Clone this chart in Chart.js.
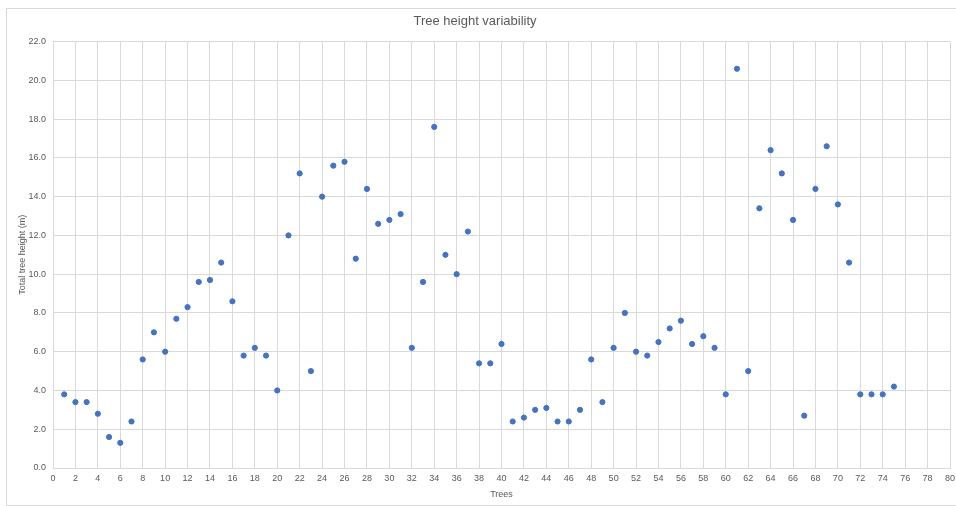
<!DOCTYPE html>
<html>
<head>
<meta charset="utf-8">
<script src="https://cdn.jsdelivr.net/npm/chart.js@4"></script>
<style>
    html, body { margin: 0; padding: 0; background: #fff; }
    #wrap { position: relative; width: 956px; height: 506px; overflow: hidden; }
    #frame { position: absolute; left: 6px; top: 8px; width: 960px; height: 496px; border: 1px solid #d9d9d9; pointer-events: none; }
</style>
</head>
<body>
<div id="wrap">
    <canvas id="treeChart" width="956" height="506"></canvas>
    <div id="frame"></div>
</div>
<script>
// Tree height data
const treeNumbers = [];
for (let i = 1; i <= 75; i++) treeNumbers.push(i);

const treeHeights = [
    3.8, 3.4, 3.4, 2.8, 1.6, 1.3, 2.4, 5.6, 7.0, 6.0,
    7.7, 8.3, 9.6, 9.7, 10.6, 8.6, 5.8, 6.2, 5.8, 4.0,
    12.0, 15.2, 5.0, 14.0, 15.6, 15.8, 10.8, 14.4, 12.6, 12.8,
    13.1, 6.2, 9.6, 17.6, 11.0, 10.0, 12.2, 5.4, 5.4, 6.4,
    2.4, 2.6, 3.0, 3.1, 2.4, 2.4, 3.0, 5.6, 3.4, 6.2,
    8.0, 6.0, 5.8, 6.5, 7.2, 7.6, 6.4, 6.8, 6.2, 3.8,
    20.6, 5.0, 13.4, 16.4, 15.2, 12.8, 2.7, 14.4, 16.6, 13.6,
    10.6, 3.8, 3.8, 3.8, 4.2
];

const xTicks = { min: 0, max: 80, step: 2 };
const yTicks = { min: 0, max: 22, step: 2 };

const points = treeNumbers.map((n, i) => ({ x: n, y: treeHeights[i] }));

const labelColor = '#595959';
const gridColor = '#d9d9d9';
const fontFamily = "'Liberation Sans', Arial, sans-serif";

const ctx = document.getElementById('treeChart').getContext('2d');
const treeChart = new Chart(ctx, {
    type: 'scatter',
    data: {
        datasets: [
            {
                label: 'Total tree height (m)',
                data: points,
                backgroundColor: '#4472c4',
                borderColor: '#4472c4',
                pointRadius: 2.6,
                pointHoverRadius: 3
            }
        ]
    },
    options: {
        responsive: false,
        animation: false,
        layout: {
            padding: { top: 8, right: 6, bottom: 0, left: 0 }
        },
        plugins: {
            legend: { display: false },
            tooltip: { enabled: false },
            title: {
                display: true,
                text: 'Tree height variability',
                color: labelColor,
                font: { family: fontFamily, size: 13, weight: 'normal' },
                padding: { top: 6, bottom: 12 }
            }
        },
        scales: {
            x: {
                type: 'linear',
                min: xTicks.min,
                max: xTicks.max,
                afterFit: scale => {
                    scale.height = 38;
                    scale.paddingRight = 0;
                },
                grid: { color: gridColor, drawTicks: false },
                border: { color: gridColor },
                ticks: {
                    stepSize: xTicks.step,
                    color: labelColor,
                    padding: 5,
                    maxRotation: 0,
                    autoSkip: false,
                    font: { family: fontFamily, size: 9 }
                },
                title: {
                    display: true,
                    text: 'Trees',
                    color: labelColor,
                    font: { family: fontFamily, size: 9 },
                    padding: { top: 0, bottom: 6 }
                }
            },
            y: {
                min: yTicks.min,
                max: yTicks.max,
                afterFit: scale => { scale.width = 53; },
                grid: { color: gridColor, drawTicks: false },
                border: { color: gridColor },
                ticks: {
                    stepSize: yTicks.step,
                    color: labelColor,
                    padding: 7,
                    font: { family: fontFamily, size: 9 },
                    callback: v => v.toFixed(1)
                },
                title: {
                    display: true,
                    text: 'Total tree height (m)',
                    color: labelColor,
                    font: { family: fontFamily, size: 9 },
                    padding: { top: 17, bottom: 0 }
                }
            }
        }
    }
});
</script>
</body>
</html>
